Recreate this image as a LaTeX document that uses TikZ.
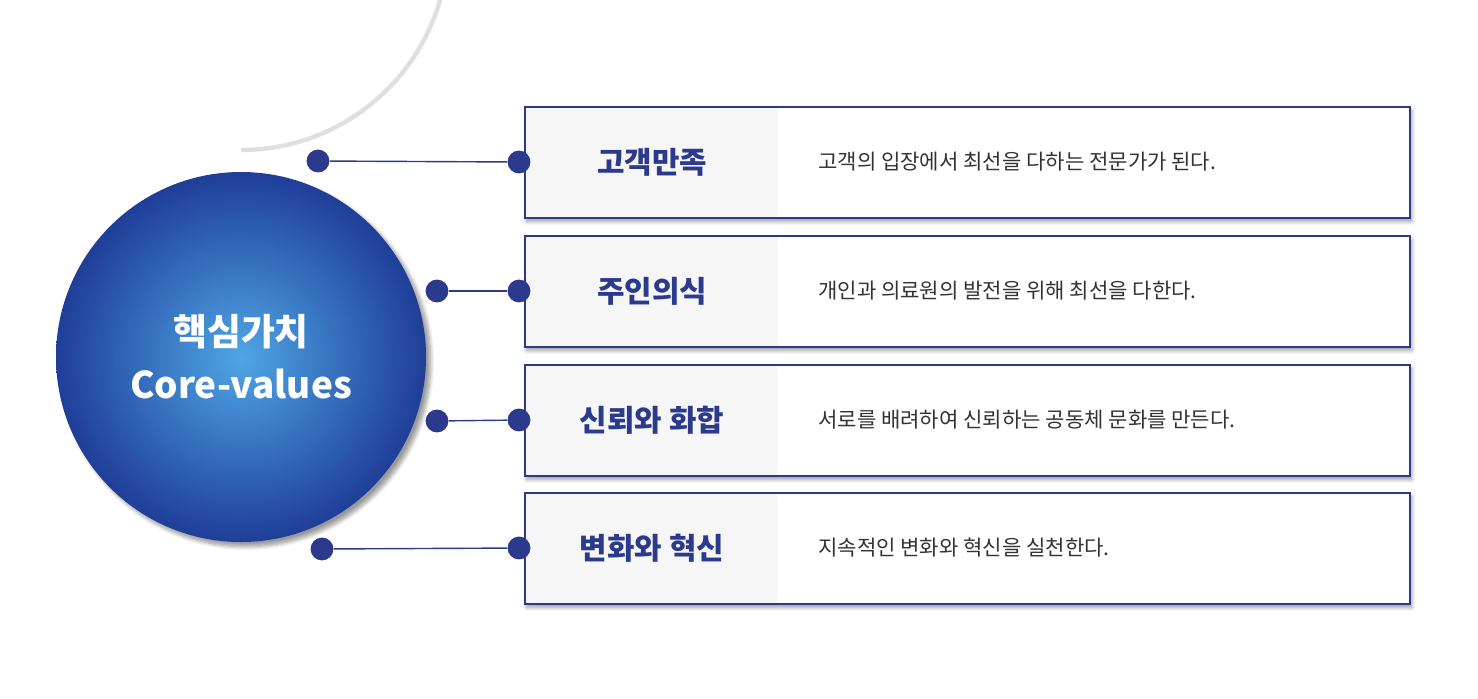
\documentclass[tikz,border=0pt]{standalone}
\usepackage{fontspec}
\setmainfont{Noto Sans CJK KR}
\usetikzlibrary{calc,positioning,shadows.blur}
\definecolor{navy}{HTML}{2B3A8C}
\definecolor{deepblue}{HTML}{1F3E98}
\definecolor{lightblue}{HTML}{4FA6E6}
\definecolor{textgray}{HTML}{333333}
\tikzset{
  valuebox/.style={draw=navy, line width=1pt, fill=white, blur shadow={shadow blur steps=6, shadow xshift=1pt, shadow yshift=-2pt}},
  headfill/.style={fill=gray!7},
  dot/.style={circle, fill=navy, inner sep=0pt, minimum size=13pt},
  link/.style={navy, line width=0.8pt},
  title/.style={font=\bfseries\fontsize{17}{20}\selectfont, text=navy},
  desc/.style={font=\fontsize{12}{14}\selectfont, text=textgray, anchor=west}
}
\begin{document}
\begin{tikzpicture}[x=0.02cm, y=-0.02cm]
  \useasboundingbox (0,0) rectangle (1478,698);
  % core circle
  \coordinate (c) at (241,357);
  \shade[inner color=lightblue, outer color=deepblue, blur shadow={shadow blur steps=8}] (c) circle (185);
  \node[text=white, font=\bfseries\fontsize{21}{30}\selectfont, align=center] (core) at (c) {핵심가치\\Core-values};
  \draw[gray!25, line width=2.5pt] (241,150) arc (90:-90:207);
  % value boxes
  \foreach \y/\dy/\head/\text [count=\i] in {107/161/고객만족/고객의 입장에서 최선을 다하는 전문가가 된다.,
      236/291/주인의식/개인과 의료원의 발전을 위해 최선을 다한다.,
      365/421/신뢰와 화합/서로를 배려하여 신뢰하는 공동체 문화를 만든다.,
      493/549/변화와 혁신/지속적인 변화와 혁신을 실천한다.} {
    \draw[valuebox] (525,\y) rectangle (1410,\y+111);
    \fill[headfill] (526,\y+1) rectangle (778,\y+110);
    \node[title] (head\i) at (652,\y+55) {\head};
    \node[desc] (desc\i) at (812,\y+55) {\text};
    \coordinate (end\i) at (519,\y+55);
  }
  \node[dot] (arc1) at (318,161) {};
  \node[dot] (arc2) at (437,291) {};
  \node[dot] (arc3) at (437,421) {};
  \node[dot] (arc4) at (322,549) {};
  \foreach \i in {1,...,4} {
    \node[dot] (tip\i) at (end\i) {};
    \draw[link] (arc\i) -- (tip\i);
  }
\end{tikzpicture}
\end{document}
